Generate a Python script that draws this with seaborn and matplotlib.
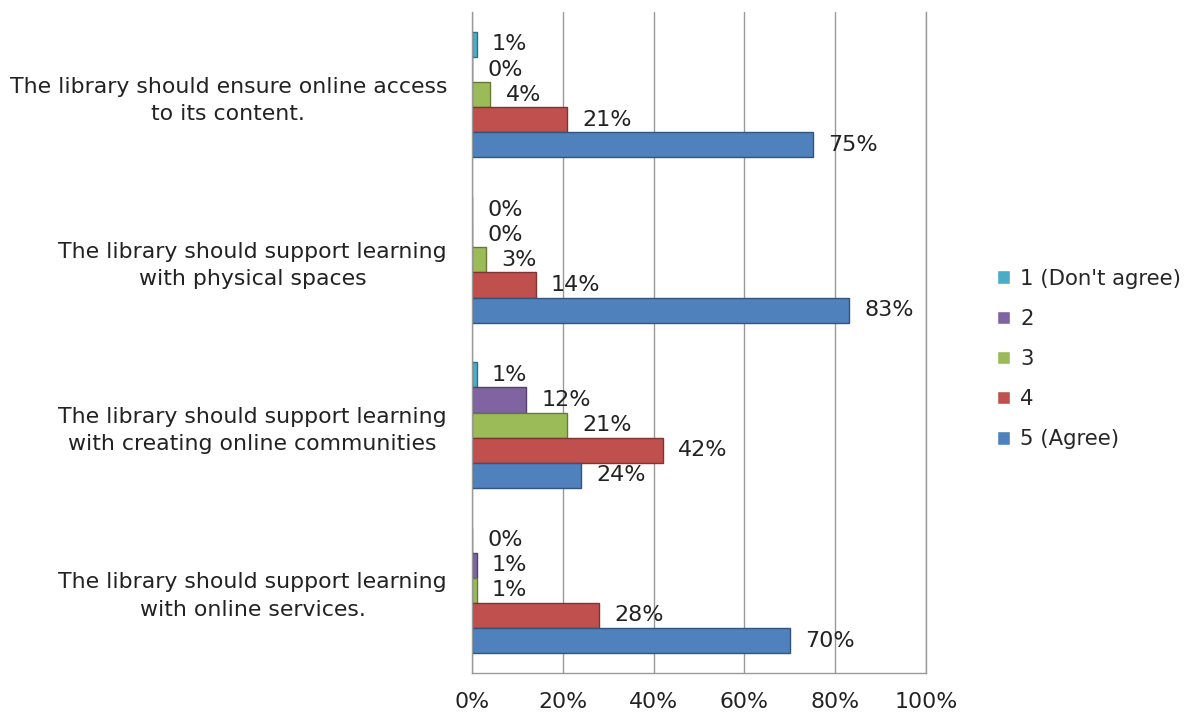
import matplotlib
matplotlib.use("Agg")
import matplotlib.pyplot as plt
import seaborn as sns
import pandas as pd
import numpy as np
from matplotlib.colors import to_rgb

categories = [
    "The library should ensure online access\nto its content.",
    "The library should support learning\nwith physical spaces",
    "The library should support learning\nwith creating online communities",
    "The library should support learning\nwith online services.",
]
series = ["1 (Don't agree)", "2", "3", "4", "5 (Agree)"]
vals_1 = [1, 0, 1, 0]
vals_2 = [0, 0, 12, 1]
vals_3 = [4, 3, 21, 1]
vals_4 = [21, 14, 42, 28]
vals_5 = [75, 83, 24, 70]
colors = ["#4BACC6", "#8064A2", "#9BBB59", "#C0504D", "#4F81BD"]
x_ticks = [0, 20, 40, 60, 80, 100]

rows = []
for s, vals in zip(series, [vals_1, vals_2, vals_3, vals_4, vals_5]):
    for c, v in zip(categories, vals):
        rows.append({"category": c, "series": s, "value": v})
df = pd.DataFrame(rows)

sns.set_style("white")
plt.rcParams["font.family"] = ["DejaVu Sans"]
FS = 15.8

fig = plt.figure(figsize=(11.98, 7.13), dpi=100)
ax = fig.add_axes([472 / 1198, 1 - 673 / 713, (926 - 472) / 1198, (673 - 12) / 713])

sns.barplot(data=df, y="category", x="value", hue="series", order=categories,
            hue_order=series, palette=colors, orient="h", width=0.76,
            ax=ax, legend=True, saturation=1)

# edges
for cont, col in zip(ax.containers, colors):
    dark = tuple(np.array(to_rgb(col)) * 0.65)
    for p in cont:
        p.set_edgecolor(dark)
        p.set_linewidth(1.0)
    ax.bar_label(cont, labels=[f"{int(round(v))}%" for v in cont.datavalues],
                 padding=11, fontsize=16, color="#222222")

ax.set_xlim(0, 100)
ax.set_xticks(x_ticks)
ax.set_xticklabels([f"{t}%" for t in x_ticks], fontsize=FS, color="#222222")
ax.set_yticklabels(categories, fontsize=FS, color="#222222", multialignment="center", linespacing=1.45)
ax.tick_params(axis="x", length=0, pad=14)
ax.tick_params(axis="y", length=0, pad=18)
ax.set_xlabel("")
ax.set_ylabel("")
ax.grid(axis="x", color="#999999", linewidth=1)
ax.set_axisbelow(True)
ax.spines["top"].set_visible(False)
for side in ["left", "bottom", "right"]:
    ax.spines[side].set_color("#999999")
    ax.spines[side].set_linewidth(1)

handles, labels = ax.get_legend_handles_labels()
ax.get_legend().remove()
fig.legend(handles, labels, loc="center left", bbox_to_anchor=(997 / 1198, 1 - 359 / 713),
           frameon=False, fontsize=15.3, handlelength=0.6, handleheight=0.6,
           handletextpad=0.5, labelspacing=0.95, borderpad=0, borderaxespad=0)

fig.savefig("out.png", dpi=100)
